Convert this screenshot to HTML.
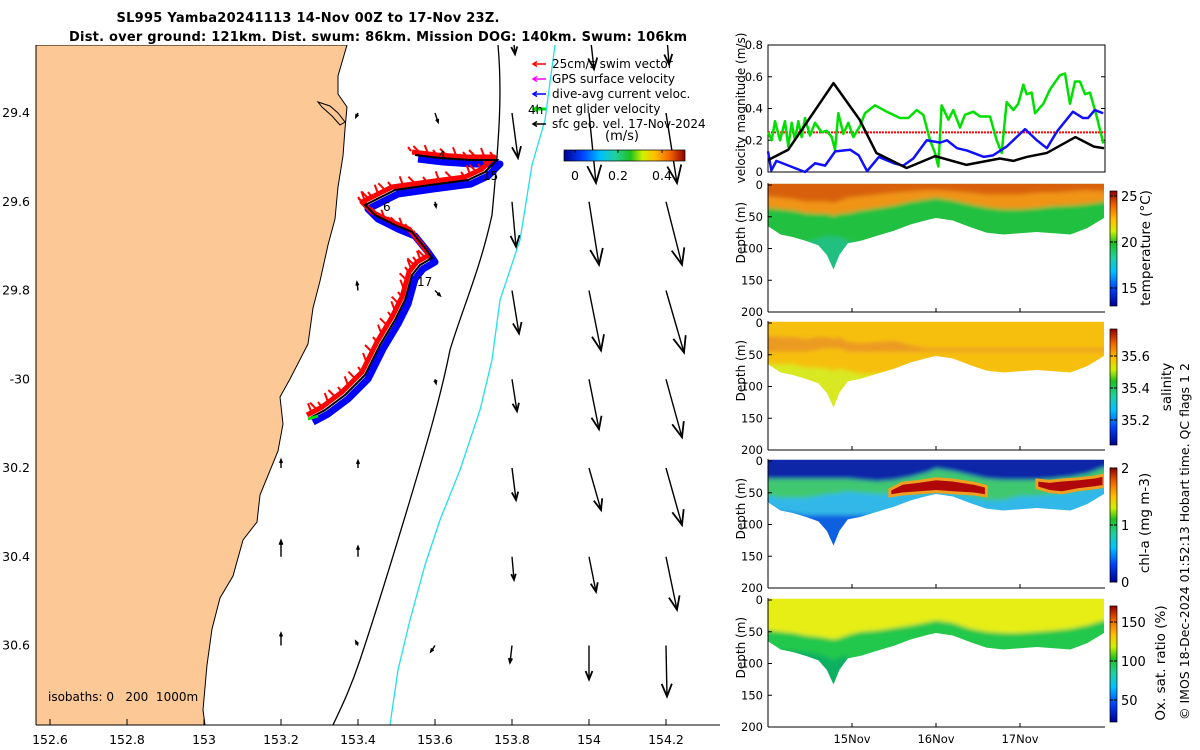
<!DOCTYPE html>
<html><head><meta charset="utf-8"><style>
html,body{margin:0;padding:0;background:#fff;}
svg{display:block;font-family:"DejaVu Sans","Liberation Sans",sans-serif;}
</style></head><body>
<svg id="fig" width="1200" height="750" viewBox="0 0 1200 750" xmlns="http://www.w3.org/2000/svg">
<defs>
<clipPath id="mapclip"><rect x="36" y="45" width="684" height="680"/></clipPath>
<filter id="soft" x="-5%" y="-5%" width="110%" height="110%"><feGaussianBlur stdDeviation="2.2"/></filter>
<linearGradient id="cbJet" x1="0" x2="1" y1="0" y2="0">
<stop offset="0" stop-color="#00008f"/><stop offset="0.15" stop-color="#0040ff"/><stop offset="0.3" stop-color="#00c0ff"/><stop offset="0.42" stop-color="#20d0a0"/><stop offset="0.55" stop-color="#20c020"/><stop offset="0.65" stop-color="#d0f000"/><stop offset="0.75" stop-color="#ffc000"/><stop offset="0.88" stop-color="#f06000"/><stop offset="1" stop-color="#900000"/></linearGradient>
<linearGradient id="cbJetV" x1="0" x2="0" y1="1" y2="0">
<stop offset="0" stop-color="#00008f"/><stop offset="0.15" stop-color="#0040ff"/><stop offset="0.3" stop-color="#00c0ff"/><stop offset="0.42" stop-color="#20d0a0"/><stop offset="0.55" stop-color="#20c020"/><stop offset="0.65" stop-color="#d0f000"/><stop offset="0.75" stop-color="#ffc000"/><stop offset="0.88" stop-color="#f06000"/><stop offset="1" stop-color="#900000"/></linearGradient>
</defs>

<text x="308" y="22" font-size="13" font-weight="bold" text-anchor="middle" textLength="383">SL995 Yamba20241113 14-Nov 00Z to 17-Nov 23Z.</text>
<text x="378" y="41" font-size="13" font-weight="bold" text-anchor="middle" textLength="618">Dist. over ground: 121km. Dist. swum: 86km. Mission DOG: 140km. Swum: 106km</text>

<g id="map"></g>
<g id="vel"></g>
<g id="sections"></g>

<text transform="translate(1189,720) rotate(-90)" font-size="12.5">© IMOS 18-Dec-2024 01:52:13 Hobart time. QC flags 1  2</text>
</svg>
<script>
const NS="http://www.w3.org/2000/svg";
function mk(tag,attrs,parent,txt){const e=document.createElementNS(NS,tag);for(const k in attrs)e.setAttribute(k,attrs[k]);if(txt!==undefined)e.textContent=txt;parent.appendChild(e);return e;}

// ---------- MAP DATA ----------
const lonTicks=[152.6,152.8,153,153.2,153.4,153.6,153.8,154,154.2];
const latTicks=[-29.4,-29.6,-29.8,-30,-30.2,-30.4,-30.6];
const latTickLabels=["29.4","29.6","29.8","-30","30.2","30.4","30.6"];
const gridLons=[153.2,153.4,153.6,153.8,154.0,154.2];
const gridLats=[-29.2,-29.4,-29.6,-29.8,-30.0,-30.2,-30.4,-30.6];
const uRows=[[null,null,null,0.03,0.05,0.03],[null,-0.02,0.03,0.06,0.07,0.11],[null,null,0.01,0.04,0.10,0.16],[null,-0.01,0.05,0.07,0.12,0.18],[null,null,0.01,0.05,0.10,0.16],[0,0,null,0.04,0.12,0.16],[0,0,null,0.02,0.07,0.11],[0,-0.02,-0.04,-0.02,0,0.01]];
const vRows=[[null,null,null,-0.30,-0.45,-0.40],[null,-0.04,-0.09,-0.45,-0.70,-0.70],[null,null,-0.05,-0.45,-0.63,-0.63],[null,0.08,-0.05,-0.43,-0.60,-0.62],[null,null,-0.04,-0.32,-0.50,-0.58],[0.08,0.07,null,-0.32,-0.42,-0.57],[0.16,0.10,null,-0.23,-0.35,-0.53],[0.12,0.04,-0.06,-0.17,-0.34,-0.51]];
const lonX=l=>204+(l-153)*385;
const latY=l=>113+(-l-29.4)*443.75;
const velScale=100;

const map=document.getElementById('map');
const mc=mk('g',{'clip-path':'url(#mapclip)'},map);
const coast=[[347,45],[338,76],[338,94],[347,107],[345,129],[343,156],[338,187],[335,219],[328,245],[320,281],[313,308],[308,344],[290,379],[280,397],[283,424],[278,451],[260,495],[257,522],[243,540],[233,576],[220,598],[212,629],[207,665],[203,710],[205,725]];
let d="M36,45 "+coast.map(p=>"L"+p[0]+","+p[1]).join(" ")+" L36,725 Z";
let land=mk('path',{d:d,fill:'#fbc896',stroke:'#000','stroke-width':1},mc);


let hl=mk('path',{d:"M318,102 L330,106 L338,113 L345,122 L340,125 L332,116 L322,107 Z",fill:'#fbc896',stroke:'#000','stroke-width':1},mc);


let iso200=mk('path',{d:"M498,45 C502,90 500,130 492,215 C480,270 462,310 450,350 C440,400 425,450 410,500 C395,550 380,600 360,660 C350,690 340,710 333,725",fill:'none',stroke:'#000','stroke-width':1.3},mc);


let iso1000=mk('path',{d:"M555,45 L545,120 L532,165 L520,240 L500,300 L492,360 L480,410 L460,470 L440,520 L425,565 L410,620 L398,670 L390,725",fill:'none',stroke:'#22e0e8','stroke-width':1.3},mc);


for(let r=0;r<gridLats.length;r++){for(let c=0;c<gridLons.length;c++){
  const u=uRows[r][c],v=vRows[r][c]; if(u===null||v===null) continue;
  const x0=lonX(gridLons[c]),y0=latY(gridLats[r]);
  const dx=u*velScale,dy=-v*velScale,L=Math.hypot(dx,dy)||1;
  const x1=x0+dx,y1=y0+dy,ux=dx/L,uy=dy/L;
  const h=Math.max(3,L*0.25),w=h*0.4;
  const g=mk('g',{},mc);
  
  
  mk('line',{x1:x0,y1:y0,x2:x1,y2:y1,stroke:'#000','stroke-width':1.4},g);
  mk('polyline',{points:`${x1-ux*h-uy*w},${y1-uy*h+ux*w} ${x1},${y1} ${x1-ux*h+uy*w},${y1-uy*h-ux*w}`,fill:'none',stroke:'#000','stroke-width':1.8},g);
}}
// glider track
const track=[[415,155],[440,158],[470,160],[497,160],[485,172],[468,180],[430,185],[395,190],[375,200],[365,205],[375,215],[395,225],[412,232],[425,248],[432,258],[420,265],[412,275],[405,300],[395,320],[380,345],[365,375],[345,395],[325,410],[310,418]];
const tp=(ox,oy)=>track.map(p=>(p[0]+ox)+","+(p[1]+oy)).join(" ");
let blue=mk('polyline',{points:tp(3,4),fill:'none',stroke:'#0000ff','stroke-width':7,'stroke-linejoin':'round'},mc);


let redg=mk('g',{},mc);


mk('polyline',{points:tp(-3,-3),fill:'none',stroke:'#ff0000','stroke-width':5,'stroke-linejoin':'round'},redg);
for(let i=0;i<track.length-1;i++){const a=track[i],b=track[i+1];for(let k=0;k<3;k++){const t=k/3;const x=a[0]+(b[0]-a[0])*t-4,y=a[1]+(b[1]-a[1])*t-4;mk('line',{x1:x,y1:y,x2:x-3-(k%2)*3,y2:y-4-(k%3)*2,stroke:'#ff0000','stroke-width':2},redg);}}
let trk=mk('polyline',{points:tp(0,0),fill:'none',stroke:'#000','stroke-width':2},mc);


mk('line',{x1:308,y1:419,x2:318,y2:416,stroke:'#00e000','stroke-width':3},mc);
[["4",438,160],["15",483,180],["6",383,211],["17",417,286]].forEach(l=>{const t=mk('text',{x:l[1],y:l[2],'font-size':12},mc,l[0]);});
mk('line',{x1:36,y1:725,x2:720,y2:725,stroke:'#000'},map);
mk('line',{x1:36,y1:45,x2:36,y2:725,stroke:'#000'},map);
lonTicks.forEach(l=>{const x=lonX(l);mk('line',{x1:x,y1:725,x2:x,y2:719,stroke:'#000'},map);const t=mk('text',{x:x,y:744,'font-size':12.5,'text-anchor':'middle'},map,String(l));});
latTicks.forEach((l,i)=>{const y=latY(l);const t=mk('text',{x:30,y:y+4,'font-size':12.5,'text-anchor':'end'},map,latTickLabels[i]);});
let isoTxt=mk('text',{x:48,y:701,'font-size':12},map,"isobaths: 0\u00a0\u00a0\u00a0200\u00a0\u00a01000m");


const legItems=[["25cm/s swim vector","#ff0000"],["GPS surface velocity","#ff00ff"],["dive-avg current veloc.","#0000ff"],["net glider velocity","#00e000"],["sfc geo. vel. 17-Nov-2024","#000"]];
legItems.forEach((it,i)=>{const y=64+i*15;const g=mk('g',{},map);


mk('line',{x1:533,y1:y,x2:546,y2:y,stroke:it[1],'stroke-width':i==3?3:1.5},g);
mk('polyline',{points:`${537},${y-2.5} ${533},${y} ${537},${y+2.5}`,fill:'none',stroke:it[1],'stroke-width':1.5},g);
mk('text',{x:552,y:y+4,'font-size':12},g,it[0]);});
mk('text',{x:528,y:114,'font-size':12},map,"4h");
mk('text',{x:605,y:140,'font-size':13},map,"(m/s)");
let cb=mk('rect',{x:564,y:150,width:121,height:11,fill:'url(#cbJet)',stroke:'#000','stroke-width':0.7},map);


[["0",575],["0.2",618],["0.4",662]].forEach(a=>{mk('line',{x1:a[1],y1:150,x2:a[1],y2:153,stroke:'#000'},map);mk('text',{x:a[1],y:180,'font-size':12.5,'text-anchor':'middle'},map,a[0]);});

// ---------- VELOCITY PANEL ----------
const blackT=[0,0.24,0.78,1.09,1.29,1.65,1.99,2.36,2.76,2.92,3.08,3.32,3.66,3.88,4.0];
const blackV=[0.075,0.14,0.56,0.33,0.12,0.025,0.10,0.045,0.085,0.07,0.095,0.12,0.22,0.16,0.15];
const blueT=[0,0.04,0.1,0.44,0.56,0.68,0.8,0.98,1.08,1.18,1.32,1.5,1.61,1.73,1.89,2.05,2.13,2.25,2.37,2.57,2.68,2.84,3.06,3.2,3.32,3.44,3.63,3.75,3.81,3.89,3.99];
const blueV=[0.13,0.01,0.07,0.0,0.055,0.04,0.13,0.14,0.105,0.005,0.095,0.055,0.04,0.085,0.2,0.185,0.2,0.15,0.135,0.095,0.105,0.16,0.27,0.2,0.15,0.255,0.38,0.34,0.34,0.39,0.37];
const greenT=[0.004,0.044,0.083,0.143,0.202,0.242,0.282,0.321,0.361,0.401,0.44,0.5,0.56,0.639,0.698,0.758,0.798,0.837,0.897,0.956,1.016,1.095,1.155,1.274,1.413,1.571,1.671,1.77,1.849,1.929,1.988,2.028,2.067,2.147,2.206,2.286,2.345,2.444,2.524,2.643,2.722,2.782,2.841,2.921,2.98,3.04,3.079,3.139,3.179,3.278,3.357,3.476,3.536,3.595,3.655,3.714,3.774,3.833,3.913,3.992];
const greenV=[0.25,0.2,0.32,0.2,0.32,0.16,0.31,0.2,0.32,0.22,0.34,0.23,0.31,0.25,0.26,0.22,0.14,0.37,0.24,0.31,0.22,0.29,0.37,0.42,0.38,0.34,0.34,0.39,0.36,0.2,0.12,0.035,0.42,0.33,0.39,0.28,0.36,0.38,0.35,0.35,0.2,0.12,0.44,0.39,0.43,0.55,0.49,0.5,0.37,0.43,0.52,0.61,0.62,0.43,0.57,0.57,0.49,0.5,0.35,0.18];
const swimRef=[0.25];
const velTicks=[0,0.2,0.4,0.6,0.8];
const PX0=768,PX1=1105;
const tX=t=>PX0+t*(PX1-PX0)/4.0119;
const vY=v=>172-v*(127/0.8);
const vel=document.getElementById('vel');
mk('rect',{x:PX0,y:45,width:PX1-PX0,height:127,fill:'#fff',stroke:'#000','stroke-width':1},vel);
velTicks.forEach(v=>{const y=vY(v);mk('line',{x1:PX0,y1:y,x2:PX0+4,y2:y,stroke:'#000'},vel);mk('line',{x1:PX1,y1:y,x2:PX1-4,y2:y,stroke:'#000'},vel);const t=mk('text',{x:PX0-5,y:y+4,'font-size':11.5,'text-anchor':'end'},vel,String(v));});
let yl=mk('text',{transform:'translate(745,108) rotate(-90)','font-size':12,'text-anchor':'middle'},vel,"velocity magnitude (m/s)");


const line=(T,V,col,w,name)=>{const p=mk('polyline',{points:T.map((t,i)=>tX(t)+","+vY(V[i])).join(" "),fill:'none',stroke:col,'stroke-width':w,'stroke-linejoin':'round'},vel);};
let ref=mk('line',{x1:PX0,y1:vY(swimRef[0]),x2:PX1,y2:vY(swimRef[0]),stroke:'#ff0000','stroke-width':2,'stroke-dasharray':'2,1'},vel);


line(greenT,greenV,'#00e000',2.5,'net-glider-velocity-line');
line(blueT,blueV,'#1010ff',2.5,'dive-avg-current-line');
line(blackT,blackV,'#000',2.5,'geostrophic-velocity-line');

// ---------- SECTIONS ----------
const secT=[0,0.15,0.3,0.45,0.6,0.7,0.78,0.85,0.95,1.1,1.3,1.5,1.7,1.9,2.0,2.2,2.4,2.6,2.8,3.0,3.2,3.4,3.6,3.8,4.0];
const bottomDepth=[65,78,82,88,95,110,133,110,92,88,80,72,62,55,52,56,66,75,78,76,74,76,78,68,52];
const tempWarm=[18,20,22,26,26,26,28,25,20,18,15,12,10,8,8,10,12,15,15,15,12,12,10,8,10];
const tempThermo=[36,38,40,44,45,45,48,45,44,40,36,32,26,22,20,24,30,35,38,38,36,33,32,30,26];
const tempCold=[90,90,90,90,85,80,82,82,88,95,95,95,95,95,95,95,95,95,95,95,95,95,95,95,95];
const salBand1=[20,22,22,25,22,22,25,22,30,32,30,28,35,40,40,40,40,40,40,40,40,40,40,40,40];
const salBand2=[45,45,45,45,42,40,40,40,45,45,45,45,45,45,45,45,45,45,45,45,45,45,45,45,45];
const salDeep=[65,65,65,70,70,72,75,72,75,80,80,80,80,80,80,80,80,80,80,80,80,80,80,80,80];
const chlBlue=[28,28,28,28,28,28,28,28,28,30,32,30,25,18,12,16,22,28,30,30,30,28,25,20,10];
const chlGreen=[55,58,58,58,55,52,52,50,48,50,52,52,50,50,48,50,55,62,62,55,55,52,50,45,40];
const chlDeep=[70,80,82,85,85,85,85,85,85,85,85,85,85,85,85,85,85,85,85,85,85,85,85,85,85];
const chlPatchT=[1.45,1.6,1.8,2.0,2.2,2.45,2.6,3.2,3.35,3.5,3.7,3.9,4.0];
const chlPatchTop=[45,35,32,28,30,35,40,30,32,30,28,25,22];
const chlPatchBot=[55,52,50,48,50,52,55,42,48,50,45,42,40];
const oxThermo=[48,50,52,56,58,60,62,60,55,50,48,44,40,35,32,36,45,50,52,52,50,48,45,40,32];
const oxDeep=[80,80,80,82,85,90,95,90,88,200,200,200,200,200,200,200,200,200,200,200,200,200,200,200,200];
const depthTicks=[0,50,100,150,200];
const dateTicks=[1,2,3];
const dateLabels=["15Nov","16Nov","17Nov"];

const panels=[
 {top:185,name:'temperature-section',layers:[['#f0c010',null,tempThermo],['#f09418',null,null],['#d86010',null,tempWarm],['#20c040',tempThermo,null],['#20c080',tempCold,null]],
  cb:{y0:191,y1:306,ticks:[[25,196],[20,242],[15,288]],label:'temperature (°C)',lx:1150,ly:248}},
 {top:323,name:'salinity-section',layers:[['#f6bf10',null,null],['#eb9a22',salBand1,salBand2],['#d8e820',salDeep,null]],
  cb:{y0:329,y1:445,ticks:[["35.6",356],["35.4",388],["35.2",420]],label:'salinity',lx:1171,ly:387}},
 {top:461,name:'chlorophyll-section',layers:[['#30b8e8',null,null],['#40c870',chlBlue,chlGreen],['#1060e0',chlDeep,null],['#0828a8',null,chlBlue]],
  cb:{y0:468,y1:582,ticks:[[2,468],[1,525],[0,582]],label:'chl-a (mg m-3)',lx:1149,ly:523},patch:true},
 {top:600,name:'oxygen-section',layers:[['#e6ee12',null,null],['#24c84c',oxThermo,null],['#10b060',oxDeep,null]],
  cb:{y0:606,y1:722,ticks:[[150,622],[100,661],[50,700]],label:'Ox. sat. ratio (%)',lx:1165,ly:663}}
];
const sec=document.getElementById('sections');
panels.forEach((P,pi)=>{
  const dY=d=>P.top+d*(127/200);
  const g=mk('g',{},sec);
  
  
  const cid='clip'+pi;
  const cp=mk('clipPath',{id:cid},g);
  const dataPath="M"+tX(0)+","+dY(-2)+" "+secT.map((t,i)=>"L"+tX(t)+","+dY(bottomDepth[i])).join(" ")+" L"+tX(4)+","+dY(-2)+" Z";
  mk('path',{d:dataPath},cp);
  const inner=mk('g',{'clip-path':`url(#${cid})`},g);
  const blur=mk('g',{filter:'url(#soft)'},inner);
  P.layers.forEach(L=>{
    const top=L[1],bot=L[2];
    const up=secT.map((t,i)=>tX(t)+","+dY(top?top[i]:-10));
    const dn=secT.map((t,i)=>tX(t)+","+dY(bot?bot[i]:220)).reverse();
    const pts=[ (tX(0)-10)+","+dY(top?top[0]:-10), ...up, (tX(4)+10)+","+dY(top?top[top.length-1]:-10), (tX(4)+10)+","+dY(bot?bot[bot.length-1]:220), ...dn, (tX(0)-10)+","+dY(bot?bot[0]:220)];
    const p=mk('polygon',{points:pts.join(" "),fill:L[0]},blur);
    
    
  });
  if(P.patch){
    const segs=[[0,7],[7,13]];
    segs.forEach(s=>{const T=chlPatchT.slice(s[0],s[1]),A=chlPatchTop.slice(s[0],s[1]),B=chlPatchBot.slice(s[0],s[1]);
      const pts=T.map((t,i)=>tX(t)+","+dY(A[i])).concat(T.map((t,i)=>tX(t)+","+dY(B[i])).reverse());
      const pg=mk('polygon',{points:pts.join(" "),fill:'#b00808',stroke:'#f0a020','stroke-width':3},inner);
      
      });
  }
  mk('line',{x1:PX0,y1:dY(-3),x2:PX0,y2:dY(200),stroke:'#000'},g);
  mk('line',{x1:PX0,y1:dY(200),x2:PX1,y2:dY(200),stroke:'#000'},g);
  depthTicks.forEach(d=>{const y=dY(d);mk('line',{x1:PX0,y1:y,x2:PX0+4,y2:y,stroke:'#000'},g);const t=mk('text',{x:PX0-5,y:y+4,'font-size':11.5,'text-anchor':'end'},g,String(d));});
  dateTicks.forEach(t=>{mk('line',{x1:tX(t),y1:dY(200),x2:tX(t),y2:dY(200)-4,stroke:'#000'},g);});
  const yt=mk('text',{transform:`translate(745,${dY(75)}) rotate(-90)`,'font-size':12,'text-anchor':'middle'},g,"Depth (m)");
  
  
  const c=P.cb;
  const r=mk('rect',{x:1110,y:c.y0,width:7,height:c.y1-c.y0,fill:'url(#cbJetV)',stroke:'#000','stroke-width':0.7},g);
  
  
  c.ticks.forEach(tk=>{mk('line',{x1:1110,y1:tk[1],x2:1113,y2:tk[1],stroke:'#000'},g);mk('line',{x1:1117,y1:tk[1],x2:1114,y2:tk[1],stroke:'#000'},g);mk('text',{x:1121,y:tk[1]+5,'font-size':13},g,String(tk[0]));});
  const cl=mk('text',{transform:`translate(${c.lx},${c.ly}) rotate(-90)`,'font-size':13.5,'text-anchor':'middle'},g,c.label);
  
  
});
dateTicks.forEach((t,i)=>{const tx=mk('text',{x:tX(t),y:743,'font-size':11.5,'text-anchor':'middle'},sec,dateLabels[i]);});
</script>
</body></html>
